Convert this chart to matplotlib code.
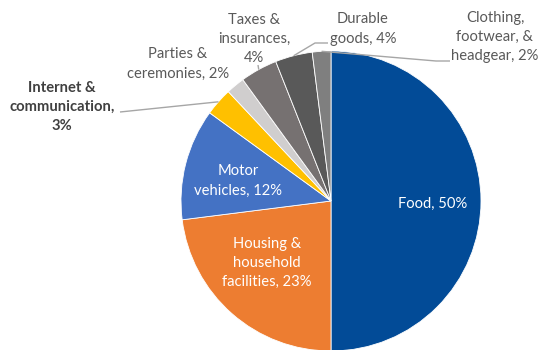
import numpy as np
import matplotlib
matplotlib.use("Agg")
import matplotlib.pyplot as plt

plt.rcParams['font.family'] = ['Lato', 'DejaVu Sans']

# Expenditure shares (%)
categories = ["Food", "Housing &\nhousehold\nfacilities", "Motor\nvehicles",
              "Internet &\ncommunication,", "Parties &\nceremonies",
              "Taxes &\ninsurances,", "Durable\ngoods", "Clothing,\nfootwear, &\nheadgear"]
shares = [50, 23, 12, 3, 2, 4, 4, 2]
colors = ["#024B97", "#ED7D31", "#4472C4", "#FFC000", "#D0CECE",
          "#767171", "#595959", "#7F7F7F"]

fig = plt.figure(figsize=(5.39, 3.5), dpi=100)
ax = fig.add_axes([0, 0, 1, 1])

cx, cy, R = 331, 149, 150
wedges, _ = ax.pie(shares, colors=colors, startangle=90, counterclock=False,
                   center=(cx, cy), radius=R,
                   wedgeprops=dict(edgecolor="white", linewidth=0.6))
ax.set_xlim(0, 539)
ax.set_ylim(0, 350)
ax.set_aspect("equal")
ax.axis("off")

def label_text(i):
    name = categories[i]
    if name.endswith(","):
        return f"{name}\n{shares[i]}%"
    return f"{name}, {shares[i]}%"

label_pos = {0: (433, 146), 1: (267, 87), 2: (238, 169), 3: (62, 243),
             4: (178, 286), 5: (254, 311), 6: (363, 321), 7: (495, 313)}

fs = 10.6
for i, (x, y) in label_pos.items():
    inside = i in (0, 1, 2)
    color = "white" if inside else ("#404040" if i == 3 else "#595959")
    weight = "bold" if i == 3 else "normal"
    ax.text(x, y, label_text(i), ha="center", va="center", fontsize=fs,
            color=color, fontweight=weight, linespacing=1.46)

# Leader lines from label to wedge edge
def edge_point(i, r=1.0):
    w = wedges[i]
    ang = np.deg2rad((w.theta1 + w.theta2) / 2)
    return cx + R * r * np.cos(ang), cy + R * r * np.sin(ang)

leaders = {3: [(120, 238)], 5: [(258, 285)],
           6: [(328, 307), (315, 307)], 7: [(450, 289), (436, 289)]}
for i, pts in leaders.items():
    ex, ey = edge_point(i)
    xs = [p[0] for p in pts] + [ex]
    ys = [p[1] for p in pts] + [ey]
    ax.plot(xs, ys, color="#A6A6A6", linewidth=1.0, solid_capstyle="butt")

fig.savefig("out.png", dpi=100)
